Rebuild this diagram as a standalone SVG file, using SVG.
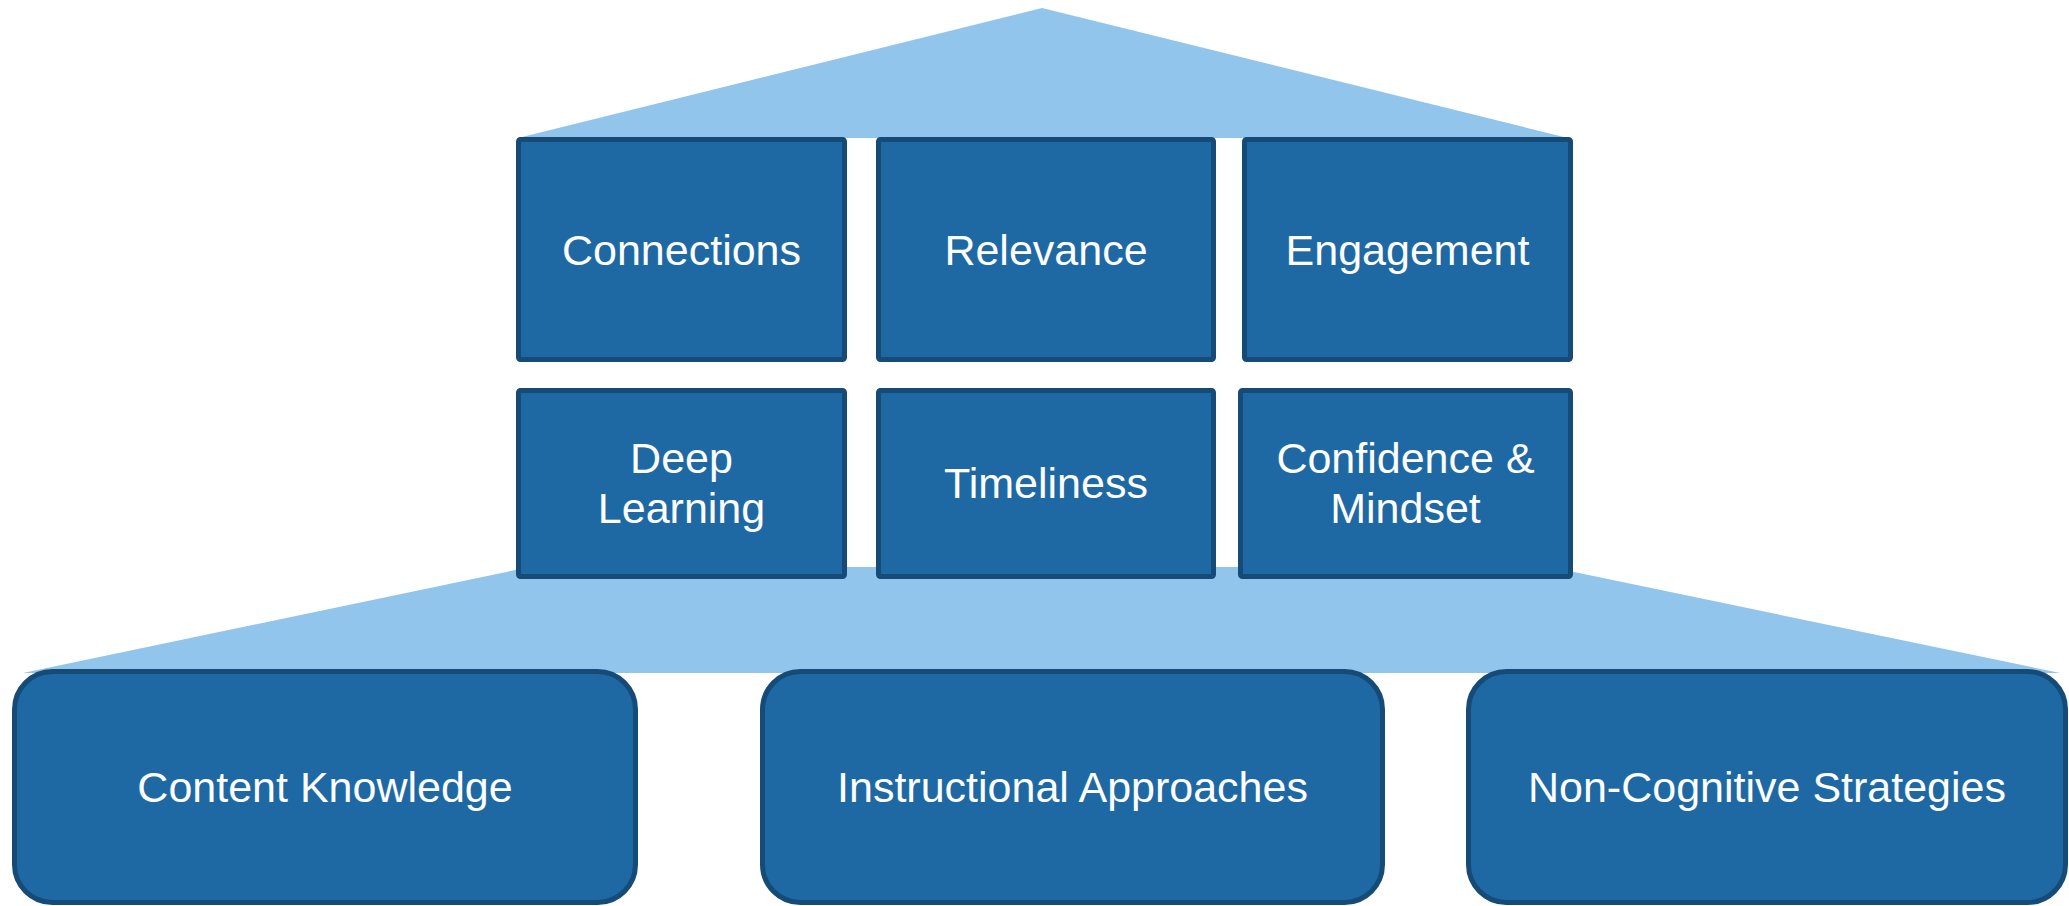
<svg xmlns="http://www.w3.org/2000/svg" width="2069" height="906" viewBox="0 0 2069 906">
<style>
.bg{fill:#91c5ec}
.box{fill:#1e69a4;stroke:#154b76;stroke-width:5}
.lbl{font-family:"Liberation Sans",Arial,sans-serif;font-size:43px;fill:#ffffff;text-anchor:middle}
</style>
<rect x="0" y="0" width="2069" height="906" fill="#ffffff"/>
<g id="frame">
<polygon id="roof" class="bg" points="1042,8 1568,138 518,138"/>
<polygon id="base" class="bg" points="530,567 1550,567 2060,673 23,673"/>
</g>
<g id="connections"><rect class="box" x="518.5" y="139.5" width="326" height="220" rx="2"/><text class="lbl" x="681.5" y="265">Connections</text></g>
<g id="relevance"><rect class="box" x="878.5" y="139.5" width="335" height="220" rx="2"/><text class="lbl" x="1046" y="265">Relevance</text></g>
<g id="engagement"><rect class="box" x="1244.5" y="139.5" width="326" height="220" rx="2"/><text class="lbl" x="1407.5" y="265">Engagement</text></g>
<g id="deep-learning"><rect class="box" x="518.5" y="390.5" width="326" height="186" rx="2"/><text class="lbl" x="681.5" y="473">Deep</text><text class="lbl" x="681.5" y="523">Learning</text></g>
<g id="timeliness"><rect class="box" x="878.5" y="390.5" width="335" height="186" rx="2"/><text class="lbl" x="1046" y="498">Timeliness</text></g>
<g id="confidence-mindset"><rect class="box" x="1240.5" y="390.5" width="330" height="186" rx="2"/><text class="lbl" x="1405.5" y="473">Confidence &amp;</text><text class="lbl" x="1405.5" y="523">Mindset</text></g>
<g id="content-knowledge"><rect class="box" x="14.5" y="671.5" width="621" height="231" rx="38"/><text class="lbl" x="325" y="802">Content Knowledge</text></g>
<g id="instructional-approaches"><rect class="box" x="762.5" y="671.5" width="620" height="231" rx="38"/><text class="lbl" x="1072.5" y="802">Instructional Approaches</text></g>
<g id="non-cognitive-strategies"><rect class="box" x="1468.5" y="671.5" width="597" height="231" rx="38"/><text class="lbl" x="1767" y="802">Non-Cognitive Strategies</text></g>
</svg>
